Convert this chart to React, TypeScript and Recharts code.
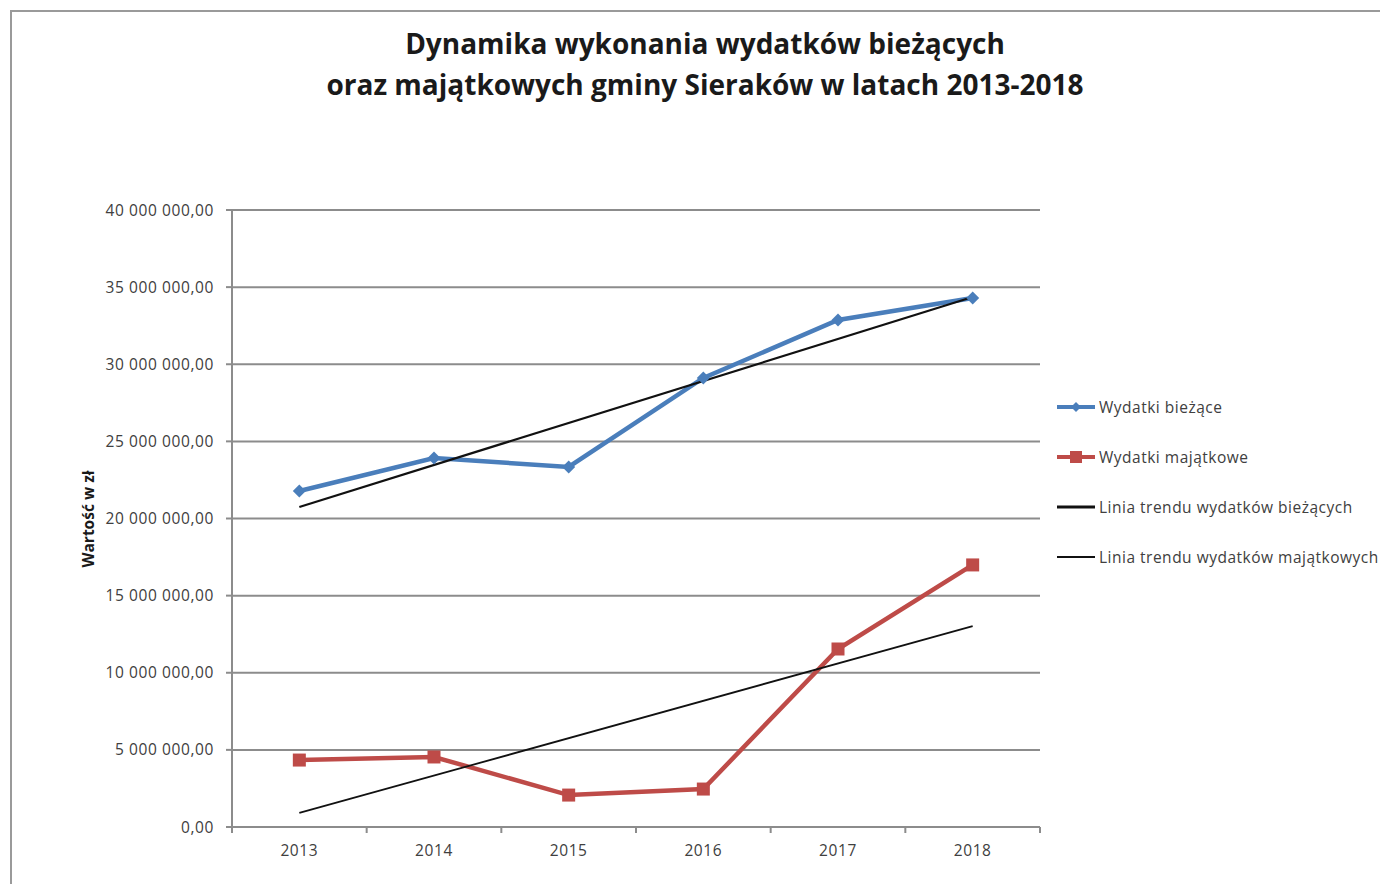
import React from 'react';
import { LineChart, Line, XAxis, YAxis, CartesianGrid } from 'recharts';

const years = ['2013', '2014', '2015', '2016', '2017', '2018'];
const wydatkiBiezace = [21780000, 23920000, 23340000, 29110000, 32870000, 34300000];
const wydatkiMajatkowe = [4340000, 4540000, 2070000, 2460000, 11540000, 16990000];
// trend lines at their two ends
const trendBiezace = [20750000, null, null, null, null, 34360000];
const trendMajatkowe = [910000, null, null, null, null, 13030000];
const yTicks = [0, 5000000, 10000000, 15000000, 20000000, 25000000, 30000000, 35000000, 40000000];

const BLUE = '#4a7ebb';
const RED = '#be4b48';
const GRID = '#8c8c8c';
const FONT = '"Open Sans", "DejaVu Sans", sans-serif';

const data = years.map((year, i) => ({
  year,
  biezace: wydatkiBiezace[i],
  majatkowe: wydatkiMajatkowe[i],
  trendB: trendBiezace[i],
  trendM: trendMajatkowe[i],
}));

const formatPl = (v: number) => String(v).replace(/\B(?=(\d{3})+(?!\d))/g, ' ') + ',00';

const HALF_STEP = (1040 - 232) / 12;
const TICK_SIZE = 6;
const TICK_MARGIN = 12;

function YearTick(props: any) {
  const { x, y, payload, index, visibleTicksCount } = props;
  const axisY = y - TICK_SIZE - TICK_MARGIN;
  return (
    <g>
      <line x1={x - HALF_STEP} y1={axisY} x2={x - HALF_STEP} y2={axisY + TICK_SIZE} stroke={GRID} strokeWidth={2} />
      {index === visibleTicksCount - 1 && (
        <line x1={x + HALF_STEP} y1={axisY} x2={x + HALF_STEP} y2={axisY + TICK_SIZE} stroke={GRID} strokeWidth={2} />
      )}
      <text x={x} y={y} dy="0.71em" textAnchor="middle" fill="#404040" fontSize={15.5} fontFamily={FONT} letterSpacing={0.6}>
        {payload.value}
      </text>
    </g>
  );
}

function Diamond(props: any) {
  const { cx, cy } = props;
  if (cx == null || cy == null) return null;
  return <polygon points={`${cx},${cy - 6.5} ${cx + 6.5},${cy} ${cx},${cy + 6.5} ${cx - 6.5},${cy}`} fill={BLUE} />;
}

function Square(props: any) {
  const { cx, cy } = props;
  if (cx == null || cy == null) return null;
  return <rect x={cx - 6.5} y={cy - 6.5} width={13} height={13} fill={RED} />;
}

const legendItems = [
  { label: 'Wydatki bieżące', color: BLUE, width: 4, marker: 'diamond' },
  { label: 'Wydatki majątkowe', color: RED, width: 4, marker: 'square' },
  { label: 'Linia trendu wydatków bieżących', color: '#111', width: 3, marker: 'none' },
  { label: 'Linia trendu wydatków majątkowych', color: '#111', width: 2, marker: 'none' },
];

function ChartLegend() {
  return (
    <div style={{ position: 'absolute', left: 1057, top: 382, width: 340, fontFamily: FONT, fontSize: 15.5, color: '#404040', letterSpacing: 0.5 }}>
      {legendItems.map((item) => (
        <div key={item.label} style={{ height: 50, display: 'flex', alignItems: 'center', whiteSpace: 'nowrap' }}>
          <svg width={40} height={16} style={{ marginRight: 2, flexShrink: 0 }}>
            <line x1={0} y1={8} x2={38} y2={8} stroke={item.color} strokeWidth={item.width} />
            {item.marker === 'diamond' && <polygon points="19,3 24,8 19,13 14,8" fill={item.color} />}
            {item.marker === 'square' && <rect x={13} y={2} width={12} height={12} fill={item.color} />}
          </svg>
          <span>{item.label}</span>
        </div>
      ))}
    </div>
  );
}

export default function App() {
  return (
    <div style={{ position: 'fixed', left: 0, top: 0, width: 1380, height: 884, overflow: 'hidden', background: '#fff' }}>
      <div style={{ position: 'absolute', left: 10, top: 10, width: 1400, height: 900, border: '2px solid #9a9a9a', boxSizing: 'border-box' }} />
      <div
        style={{
          position: 'absolute',
          left: 255,
          width: 900,
          top: 23,
          textAlign: 'center',
          fontFamily: FONT,
          fontWeight: 700,
          fontSize: 28,
          lineHeight: '41px',
          color: '#1a1a1a',
        }}
      >
        Dynamika wykonania wydatków bieżących
        <br />
        oraz majątkowych gminy Sieraków w latach 2013-2018
      </div>
      <div
        style={{
          position: 'absolute',
          left: 88,
          top: 519,
          transform: 'translate(-50%, -50%) rotate(-90deg)',
          fontFamily: FONT,
          fontWeight: 700,
          fontSize: 15.5,
          color: '#1a1a1a',
          whiteSpace: 'nowrap',
        }}
      >
        Wartość w zł
      </div>
      <div style={{ position: 'absolute', left: 0, top: 0 }}>
        <LineChart width={1380} height={884} data={data} margin={{ top: 210, right: 340, bottom: 0, left: 0 }}>
          <CartesianGrid vertical={false} stroke={GRID} strokeWidth={2} />
          <XAxis
            dataKey="year"
            height={57}
            padding={{ left: HALF_STEP, right: HALF_STEP }}
            axisLine={{ stroke: GRID, strokeWidth: 2 }}
            tickLine={false}
            tickSize={TICK_SIZE}
            tickMargin={TICK_MARGIN}
            tick={<YearTick />}
            interval={0}
          />
          <YAxis
            width={232}
            domain={[0, 40000000]}
            ticks={yTicks}
            interval={0}
            tickFormatter={formatPl}
            axisLine={{ stroke: GRID, strokeWidth: 2 }}
            tickLine={{ stroke: GRID, strokeWidth: 2 }}
            tickSize={6}
            tickMargin={12}
            tick={{ fill: '#404040', fontSize: 15.5, fontFamily: FONT, letterSpacing: 0.6 }}
          />
          <Line type="linear" dataKey="biezace" stroke={BLUE} strokeWidth={4.5} dot={<Diamond />} activeDot={false} isAnimationActive={false} />
          <Line type="linear" dataKey="majatkowe" stroke={RED} strokeWidth={4.5} dot={<Square />} activeDot={false} isAnimationActive={false} />
          <Line type="linear" dataKey="trendB" stroke="#111" strokeWidth={2.2} dot={false} connectNulls activeDot={false} isAnimationActive={false} />
          <Line type="linear" dataKey="trendM" stroke="#111" strokeWidth={1.8} dot={false} connectNulls activeDot={false} isAnimationActive={false} />
        </LineChart>
      </div>
      <ChartLegend />
    </div>
  );
}
